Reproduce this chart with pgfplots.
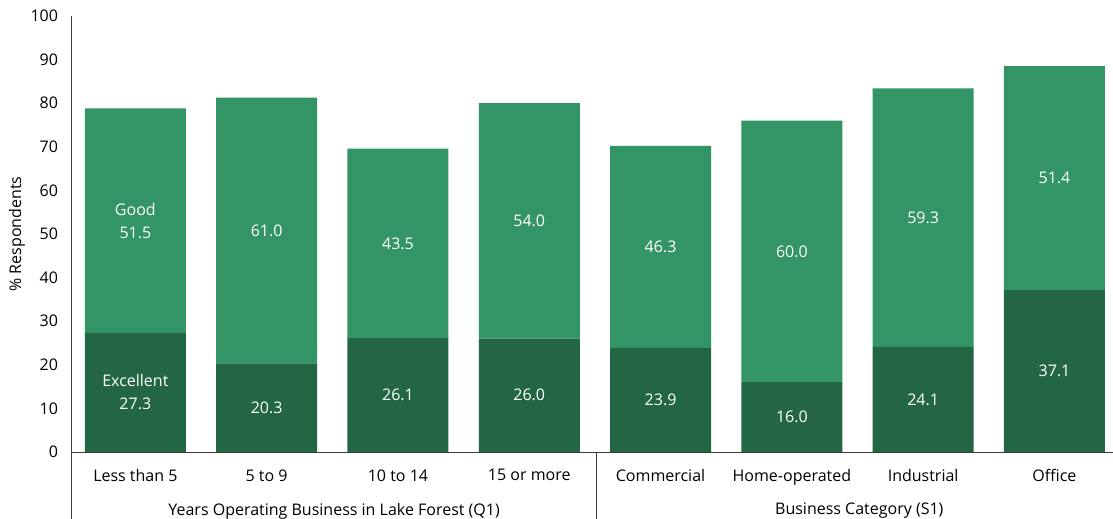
\documentclass[border=0pt]{standalone}
\usepackage{pgfplots}
\pgfplotsset{compat=1.18}
\usepackage{pgfplotstable}
\usepackage{fontspec}
\setmainfont{Open Sans}
\definecolor{excl}{RGB}{35,102,68}
\definecolor{good}{RGB}{51,149,102}
\definecolor{axisgray}{RGB}{60,60,60}
\newcommand{\lbl}{\fontsize{16bp}{23bp}\selectfont}

% Excellent / Good shares per category
\pgfplotstableread{
x excl good
0 27.3 51.5
1 20.3 61.0
2 26.1 43.5
3 26.0 54.0
4 23.9 46.3
5 16.0 60.0
6 24.1 59.3
7 37.1 51.4
}\ratings

\pgfplotsset{
  frame/.style={
    at={(71.5bp,67bp)}, anchor=south west,
    scale only axis, width=1050.4bp, height=436bp,
    ymin=0, ymax=100, xmin=-0.5, xmax=7.5,
    /pgf/number format/assume math mode=true,
    clip=false,
  },
  seglabel/.style={
    draw=none, mark=none, forget plot,
    point meta=explicit,
    visualization depends on={value \coordindex \as \idx},
    nodes near coords={\ifnum\idx=0 #1\\\fi\pgfmathprintnumber[fixed,fixed zerofill,precision=1,assume math mode=true]{\pgfplotspointmeta}},
    every node near coord/.style={anchor=center, align=center,
      text=white, font=\lbl, inner sep=0pt, xshift=-1.8bp},
  },
}

\begin{document}
\begin{tikzpicture}[x=1bp,y=1bp]
\useasboundingbox (0,0) rectangle (1113,519);
\begin{axis}[
  frame,
  ytick={0,10,...,100}, xtick={0,...,7},
  xticklabels={Less than 5,5 to 9,10 to 14,15 or more,Commercial,Home-operated,Industrial,Office},
  ybar stacked, bar width=101bp, bar shift=-1.8bp,
  axis x line*=bottom, axis y line*=left,
  axis line style={axisgray, line width=0.8bp},
  major tick length=0pt,
  tick label style={font=\lbl, text=black},
  yticklabel style={xshift=-10bp},
  xticklabel style={yshift=-14bp, xshift=-1.8bp},
  ylabel={\% Respondents},
  every axis y label/.style={at={(axis description cs:0,0.5)}, xshift=-54.5bp,
    rotate=90, anchor=center, font=\lbl},
]
\addplot[fill=excl, draw=none] table[x=x, y=excl]{\ratings};
\addplot[fill=good, draw=none] table[x=x, y=good]{\ratings};

% group separators and group titles
\draw[axisgray, line width=0.8bp] (axis cs:-0.5,0) -- ([yshift=-67bp]axis cs:-0.5,0);
\draw[axisgray, line width=0.8bp] (axis cs:3.5,0) -- ([yshift=-67bp]axis cs:3.5,0);
\node[font=\lbl, anchor=center] at ([yshift=-59bp]axis cs:1.5,0)
  {Years Operating Business in Lake Forest (Q1)};
\node[font=\lbl, anchor=center] at ([yshift=-59bp]axis cs:5.5,0)
  {Business Category (S1)};
\end{axis}

% value labels, centred in each segment
\begin{axis}[frame, hide axis]
\addplot[seglabel={Excellent}]
  table[x=x, y expr=\thisrow{excl}/2, meta=excl]{\ratings};
\addplot[seglabel={Good}]
  table[x=x, y expr=\thisrow{excl}+\thisrow{good}/2, meta=good]{\ratings};
\end{axis}
\end{tikzpicture}
\end{document}
